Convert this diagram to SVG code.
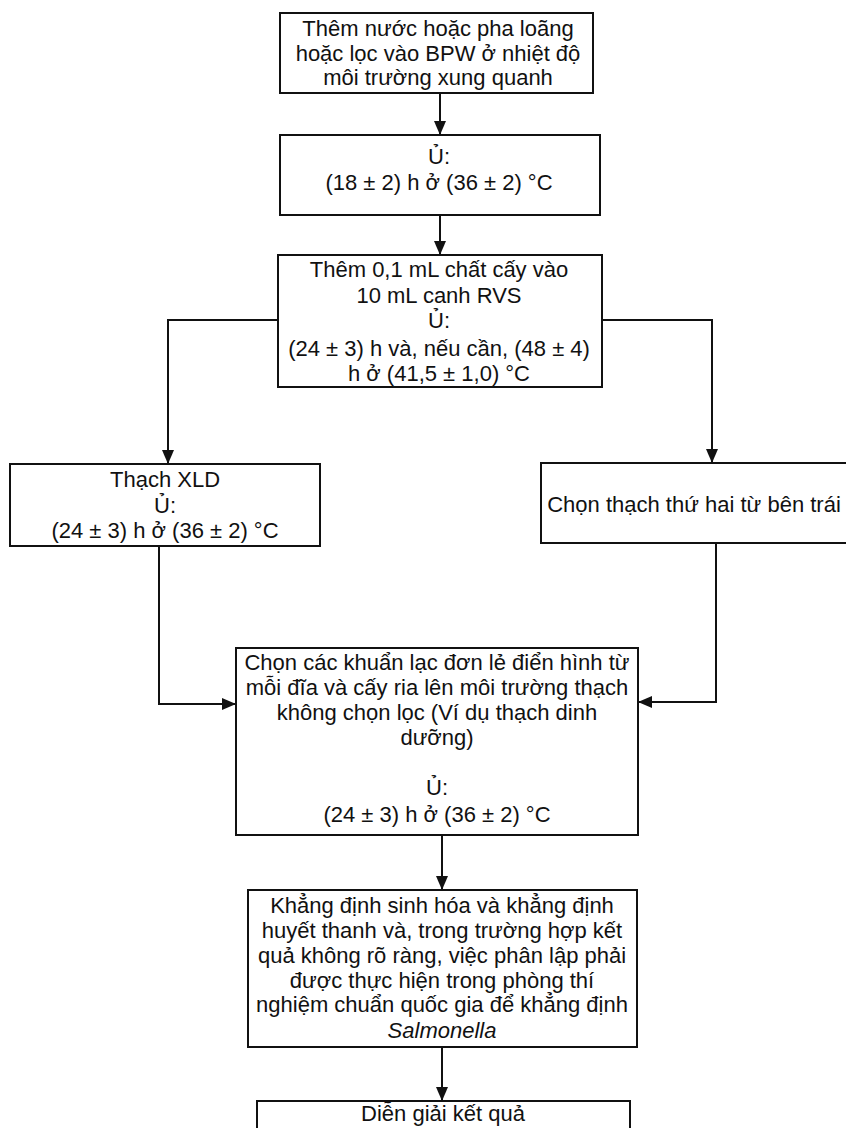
<svg xmlns="http://www.w3.org/2000/svg" width="846" height="1128" viewBox="0 0 846 1128">
<style>
.box{fill:#fff;stroke:#111;stroke-width:2}
.t{font-family:"Liberation Sans",Arial,sans-serif;font-size:22px;fill:#111;text-anchor:middle}
.c{fill:none;stroke:#111;stroke-width:2}
</style>
<defs>
<marker id="ah" viewBox="0 0 14 12" refX="14" refY="6" markerWidth="14" markerHeight="12" markerUnits="userSpaceOnUse" orient="auto">
<path d="M0,0 L14,6 L0,12 Z" fill="#111"/>
</marker>
</defs>
<rect width="846" height="1128" fill="#fff"/>
<g id="connectors">
<path class="c" d="M440,93 V135" marker-end="url(#ah)"/>
<path class="c" d="M440,215 V255" marker-end="url(#ah)"/>
<path class="c" d="M278,320 H168 V464" marker-end="url(#ah)"/>
<path class="c" d="M602,320 H712 V463" marker-end="url(#ah)"/>
<path class="c" d="M159,546 V704 H236" marker-end="url(#ah)"/>
<path class="c" d="M716,542 V702 H638" marker-end="url(#ah)"/>
<path class="c" d="M442,835 V890" marker-end="url(#ah)"/>
<path class="c" d="M442,1047 V1101" marker-end="url(#ah)"/>
</g>
<g id="n1">
<rect class="box" x="280" y="13" width="313" height="80"/>
<text class="t" x="438" y="36">Thêm nước hoặc pha loãng</text>
<text class="t" x="438" y="61">hoặc lọc vào BPW ở nhiệt độ</text>
<text class="t" x="438" y="85">môi trường xung quanh</text>
</g>
<g id="n2">
<rect class="box" x="280" y="135" width="320" height="80"/>
<text class="t" x="439" y="164">Ủ:</text>
<text class="t" x="439" y="190">(18 ± 2) h ở (36 ± 2) °C</text>
</g>
<g id="n3">
<rect class="box" x="278" y="255" width="324" height="132"/>
<text class="t" x="439" y="277">Thêm 0,1 mL chất cấy vào</text>
<text class="t" x="439" y="303">10 mL canh RVS</text>
<text class="t" x="439" y="328">Ủ:</text>
<text class="t" x="439" y="356">(24 ± 3) h và, nếu cần, (48 ± 4)</text>
<text class="t" x="439" y="381">h ở (41,5 ± 1,0) °C</text>
</g>
<g id="n4">
<rect class="box" x="10" y="464" width="310" height="82"/>
<text class="t" x="165" y="487">Thạch XLD</text>
<text class="t" x="165" y="513">Ủ:</text>
<text class="t" x="165" y="538">(24 ± 3) h ở (36 ± 2) °C</text>
</g>
<g id="n6">
<rect class="box" x="541" y="463" width="320" height="80"/>
<text class="t" x="694" y="512">Chọn thạch thứ hai từ bên trái</text>
</g>
<g id="n5">
<rect class="box" x="236" y="648" width="402" height="187"/>
<text class="t" x="437" y="670">Chọn các khuẩn lạc đơn lẻ điển hình từ</text>
<text class="t" x="437" y="695">mỗi đĩa và cấy ria lên môi trường thạch</text>
<text class="t" x="437" y="720">không chọn lọc (Ví dụ thạch dinh</text>
<text class="t" x="437" y="745">dưỡng)</text>
<text class="t" x="437" y="795">Ủ:</text>
<text class="t" x="437" y="822">(24 ± 3) h ở (36 ± 2) °C</text>
</g>
<g id="n7">
<rect class="box" x="248" y="890" width="389" height="157"/>
<text class="t" x="442" y="913">Khẳng định sinh hóa và khẳng định</text>
<text class="t" x="442" y="938">huyết thanh và, trong trường hợp kết</text>
<text class="t" x="442" y="963">quả không rõ ràng, việc phân lập phải</text>
<text class="t" x="442" y="988">được thực hiện trong phòng thí</text>
<text class="t" x="442" y="1012">nghiệm chuẩn quốc gia để khẳng định</text>
<text class="t" x="442" y="1038" font-style="italic">Salmonella</text>
</g>
<g id="n8">
<rect class="box" x="257" y="1101" width="373" height="60"/>
<text class="t" x="443" y="1121">Diễn giải kết quả</text>
</g>
</svg>
